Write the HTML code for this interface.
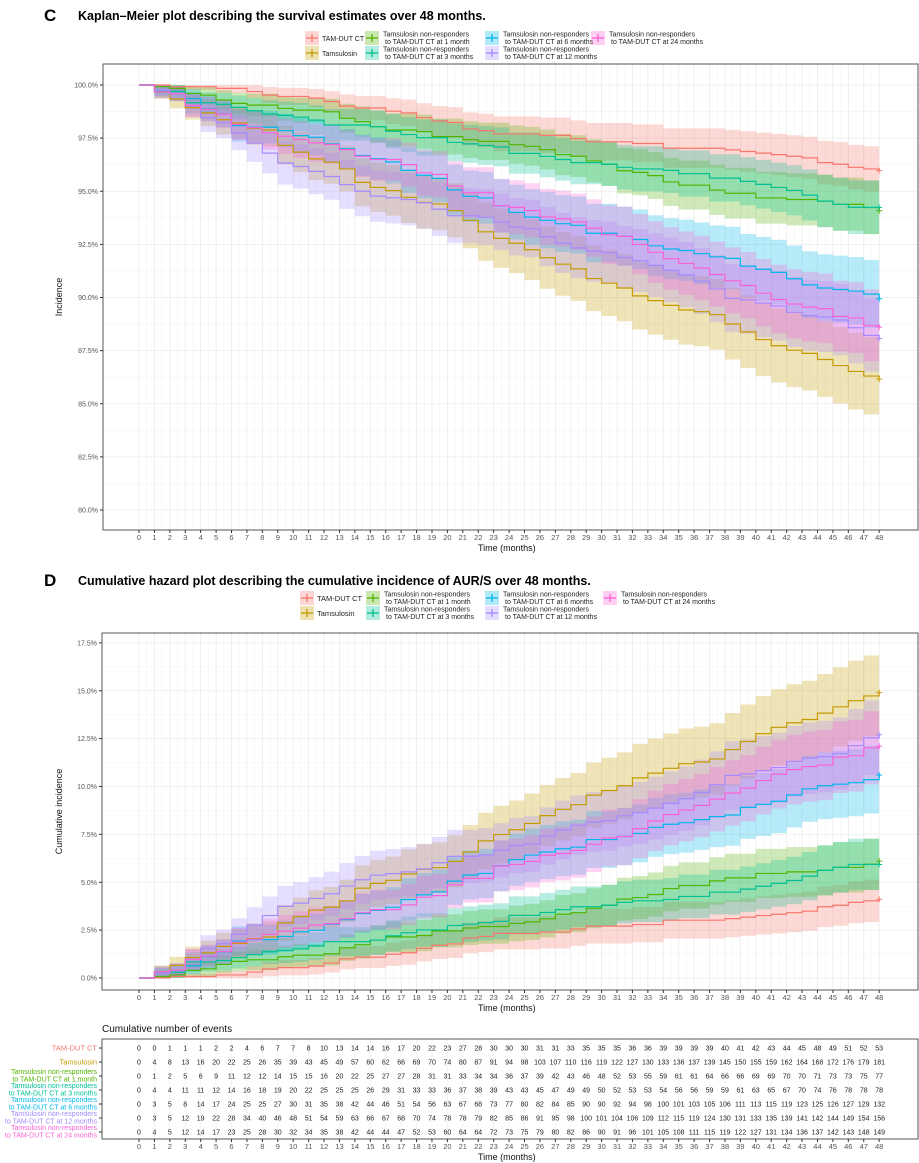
<!DOCTYPE html>
<html><head><meta charset="utf-8">
<style>
body{margin:0;background:#fff;font-family:"Liberation Sans",sans-serif;}
svg{display:block}
</style></head>
<body>
<svg id="chart" width="919" height="1163" xmlns="http://www.w3.org/2000/svg" font-family="Liberation Sans, sans-serif"></svg>
<script>
const months = [0,1,2,3,4,5,6,7,8,9,10,11,12,13,14,15,16,17,18,19,20,21,22,23,24,25,26,27,28,29,30,31,32,33,34,35,36,37,38,39,40,41,42,43,44,45,46,47,48];
const seriesNames = ["TAM-DUT CT","Tamsulosin","Tamsulosin non-responders to TAM-DUT CT at 1 month","Tamsulosin non-responders to TAM-DUT CT at 3 months","Tamsulosin non-responders to TAM-DUT CT at 6 months","Tamsulosin non-responders to TAM-DUT CT at 12 months","Tamsulosin non-responders to TAM-DUT CT at 24 months"];
const colors = ["#F8766D","#C49A00","#53B400","#00C094","#00B6EB","#A58AFF","#FB61D7"];
// cumulative hazard (%) per month
const incTamDut = [0,0,.08,.08,.08,.16,.16,.31,.47,.54,.54,.62,.78,1.0,1.09,1.09,1.24,1.32,1.55,1.71,1.78,2.09,2.17,2.33,2.33,2.33,2.4,2.4,2.56,2.71,2.71,2.71,2.79,2.79,3.02,3.02,3.02,3.02,3.1,3.18,3.26,3.33,3.41,3.49,3.72,3.8,3.95,4.03,4.11];
const incTams = [0,.33,.66,1.07,1.32,1.65,1.81,2.06,2.14,2.88,3.21,3.54,3.70,4.03,4.69,4.94,5.10,5.43,5.68,5.76,6.09,6.58,7.16,7.49,7.74,8.07,8.48,8.81,9.05,9.55,9.79,10.04,10.45,10.70,10.95,11.19,11.28,11.44,11.93,12.35,12.76,13.09,13.33,13.50,13.83,14.16,14.48,14.73,14.9];
const inc1m = [0,.08,.16,.40,.48,.71,.87,.95,.95,1.11,1.19,1.19,1.27,1.58,1.74,1.98,2.14,2.14,2.22,2.46,2.46,2.61,2.69,2.69,2.85,2.93,3.09,3.33,3.41,3.64,3.80,4.12,4.20,4.36,4.67,4.83,4.83,5.07,5.23,5.23,5.46,5.46,5.54,5.54,5.62,5.78,5.78,5.94,6.10];
const inc3m = [0,.30,.30,.84,.84,.91,1.06,1.22,1.37,1.44,1.52,1.67,1.90,1.90,1.90,1.98,2.20,2.36,2.51,2.51,2.74,2.81,2.89,2.96,3.27,3.27,3.42,3.57,3.72,3.72,3.80,3.95,4.03,4.03,4.10,4.26,4.26,4.48,4.48,4.64,4.79,4.94,5.09,5.32,5.62,5.78,5.93,5.93,5.93];
const inc6m = [0,.24,.40,.64,1.12,1.37,1.93,2.01,2.01,2.17,2.41,2.49,2.81,3.05,3.37,3.53,3.69,4.10,4.34,4.50,5.06,5.38,5.46,5.86,6.18,6.42,6.58,6.75,6.83,7.23,7.23,7.39,7.55,7.87,8.03,8.11,8.27,8.43,8.51,8.91,9.07,9.23,9.56,9.88,10.04,10.12,10.20,10.36,10.6];
const inc12m = [0,.24,.41,.98,1.55,1.79,2.28,2.77,3.26,3.74,3.91,4.15,4.40,4.80,5.13,5.37,5.45,5.54,5.70,6.02,6.35,6.35,6.43,6.67,6.92,7.00,7.41,7.73,7.98,8.14,8.22,8.47,8.63,8.87,9.12,9.36,9.69,10.09,10.58,10.66,10.83,10.99,11.31,11.48,11.56,11.72,12.13,12.54,12.7];
const inc24m = [0,.32,.41,.97,1.14,1.38,1.87,2.03,2.27,2.44,2.60,2.76,2.84,3.09,3.41,3.57,3.57,3.82,4.22,4.30,4.87,5.20,5.20,5.85,5.93,6.09,6.41,6.50,6.66,6.98,7.31,7.39,7.80,8.20,8.53,8.77,9.01,9.34,9.66,9.91,10.31,10.64,10.88,11.04,11.12,11.53,11.61,12.02,12.1];
const evTamDut = [0,0,1,1,1,2,2,4,6,7,7,8,10,13,14,14,16,17,20,22,23,27,28,30,30,30,31,31,33,35,35,35,36,36,39,39,39,39,40,41,42,43,44,45,48,49,51,52,53];
const evTams = [0,4,8,13,16,20,22,25,26,35,39,43,45,49,57,60,62,66,69,70,74,80,87,91,94,98,103,107,110,116,119,122,127,130,133,136,137,139,145,150,155,159,162,164,168,172,176,179,181];
const ev1m = [0,1,2,5,6,9,11,12,12,14,15,15,16,20,22,25,27,27,28,31,31,33,34,34,36,37,39,42,43,46,48,52,53,55,59,61,61,64,66,66,69,69,70,70,71,73,73,75,77];
const ev3m = [0,4,4,11,11,12,14,16,18,19,20,22,25,25,25,26,29,31,33,33,36,37,38,39,43,43,45,47,49,49,50,52,53,53,54,56,56,59,59,61,63,65,67,70,74,76,78,78,78];
const ev6m = [0,3,5,8,14,17,24,25,25,27,30,31,35,38,42,44,46,51,54,56,63,67,68,73,77,80,82,84,85,90,90,92,94,98,100,101,103,105,106,111,113,115,119,123,125,126,127,129,132];
const ev12m = [0,3,5,12,19,22,28,34,40,46,48,51,54,59,63,66,67,68,70,74,78,78,79,82,85,86,91,95,98,100,101,104,106,109,112,115,119,124,130,131,133,135,139,141,142,144,149,154,156];
const ev24m = [0,4,5,12,14,17,23,25,28,30,32,34,35,38,42,44,44,47,52,53,60,64,64,72,73,75,79,80,82,86,90,91,96,101,105,108,111,115,119,122,127,131,134,136,137,142,143,148,149];
const cTicks = [80,82.5,85,87.5,90,92.5,95,97.5,100];
const dTicks = [0,2.5,5,7.5,10,12.5,15,17.5];

const incs=[incTamDut,incTams,inc1m,inc3m,inc6m,inc12m,inc24m];
const evs=[evTamDut,evTams,ev1m,ev3m,ev6m,ev12m,ev24m];
const NS="http://www.w3.org/2000/svg";
const svg=document.getElementById('chart');
function el(tag,attrs,parent,text){const e=document.createElementNS(NS,tag);for(const k in attrs)e.setAttribute(k,attrs[k]);if(text!==undefined)e.textContent=text;(parent||svg).appendChild(e);return e;}
const xS=m=>139+m*15.42;
const yC=v=>85+(100-v)*21.25;
const yD=v=>978-v*19.15;

function titleBlock(letter,text,y){
  const t1=el('text',{x:44,y:y,'font-size':17,'font-weight':'bold'},svg,letter);
  
  
  const t2=el('text',{x:78,y:y-1,'font-size':12.5,'font-weight':'bold'},svg,text);
  
  
}
function legend(y0,xs,tag,fs1){
  const g=el('g',{});
  
  
  const pos=[[xs[0],y0,"TAM-DUT CT"],[xs[0],y0+15,"Tamsulosin"],[xs[1],y0,"Tamsulosin non-responders|to TAM-DUT CT at 1 month"],[xs[1],y0+15,"Tamsulosin non-responders|to TAM-DUT CT at 3 months"],[xs[2],y0,"Tamsulosin non-responders|to TAM-DUT CT at 6 months"],[xs[2],y0+15,"Tamsulosin non-responders|to TAM-DUT CT at 12 months"],[xs[3],y0,"Tamsulosin non-responders|to TAM-DUT CT at 24 months"]];
  pos.forEach((p,i)=>{
    const ge=el('g',{},g);
    
    
    el('rect',{x:p[0]-7,y:p[1]-7,width:14,height:14,fill:colors[i],'fill-opacity':0.3},ge);
    el('line',{x1:p[0]-6,y1:p[1],x2:p[0]+6,y2:p[1],stroke:colors[i],'stroke-width':1.3},ge);
    el('line',{x1:p[0],y1:p[1]-4,x2:p[0],y2:p[1]+4,stroke:colors[i],'stroke-width':1.3},ge);
    const lines=p[2].split('|');
    if(lines.length===1){el('text',{x:p[0]+10,y:p[1]+3,'font-size':fs1,fill:'#222'},ge,lines[0]);}
    else{el('text',{x:p[0]+11,y:p[1]-1.5,'font-size':7,fill:'#222'},ge,lines[0]);
         el('text',{x:p[0]+13,y:p[1]+6,'font-size':7,fill:'#222'},ge,lines[1]);}
  });
}
function panel(tag,box,yf,ticks,fmt,invert,ytitle,ytx){
  const [L,T,R,B]=box;
  const val=v=>invert?100*Math.exp(-v/100):v;
  const g=el('g',{});
  
  
  for(let i=0;i<ticks.length;i++){
    el('line',{x1:L,x2:R,y1:yf(ticks[i]),y2:yf(ticks[i]),stroke:'#ebebeb','stroke-width':0.8},g);
    if(i<ticks.length-1){const m=(ticks[i]+ticks[i+1])/2;el('line',{x1:L,x2:R,y1:yf(m),y2:yf(m),stroke:'#f4f4f4','stroke-width':0.6},g);}
  }
  months.forEach(m=>{
    el('line',{x1:xS(m),x2:xS(m),y1:T,y2:B,stroke:'#ebebeb','stroke-width':0.8},g);
    if(m<48) el('line',{x1:xS(m+0.5),x2:xS(m+0.5),y1:T,y2:B,stroke:'#f4f4f4','stroke-width':0.6},g);
  });
  incs.forEach((inc,s)=>{
    let up='',lo=[];
    inc.forEach((v,i)=>{
      if(i===48) return;
      const hw=0.55*Math.sqrt(v);
      const a=val(v+hw),b=val(Math.max(0,v-hw));
      const x0=xS(i),x1=xS(i+1);
      up+=(i===0?'M':'L')+x0+','+yf(a)+'L'+x1+','+yf(a);
      lo.unshift('L'+x1+','+yf(b)+'L'+x0+','+yf(b));
    });
    const band=el('path',{d:up+lo.join('')+'Z',fill:colors[s],'fill-opacity':0.28,stroke:'none'},g);
    
    
  });
  incs.forEach((inc,s)=>{
    let d='M'+xS(0)+','+yf(val(inc[0]));
    for(let i=1;i<inc.length;i++){d+='H'+xS(i)+'V'+yf(val(inc[i]));}
    const line=el('path',{d:d,fill:'none',stroke:colors[s],'stroke-width':1.2},g);
    
    
    const xe=xS(48),ye=yf(val(inc[48]));
    el('path',{d:`M${xe-3},${ye}H${xe+3}M${xe},${ye-3}V${ye+3}`,stroke:colors[s],'stroke-width':1},g);
  });
  el('rect',{x:L,y:T,width:R-L,height:B-T,fill:'none',stroke:'#555','stroke-width':1},g);
  ticks.forEach(t=>{
    el('line',{x1:L-3,x2:L,y1:yf(t),y2:yf(t),stroke:'#333'},g);
    const tx=el('text',{x:L-5,y:yf(t)+2.5,'font-size':7,fill:'#555','text-anchor':'end'},g,fmt(t));
    
    
  });
  months.forEach(m=>{
    el('line',{x1:xS(m),x2:xS(m),y1:B,y2:B+3,stroke:'#333'},g);
    const tx=el('text',{x:xS(m),y:B+10,'font-size':7.5,fill:'#555','text-anchor':'middle'},g,String(m));
    
    
  });
  const xt=el('text',{x:478,y:B+21,'font-size':9,fill:'#111'},g,'Time (months)');
  
  
  const yc=(T+B)/2;
  const yt=el('text',{x:ytx,y:yc,'font-size':9,fill:'#111','text-anchor':'middle',transform:`rotate(-90 ${ytx} ${yc})`},g,ytitle);
  
  
}
titleBlock('C','Kaplan\u2013Meier plot describing the survival estimates over 48 months.',21);
legend(38,[312,372,492,598],'c',7);
panel('c',[103,64,918,530],yC,cTicks,t=>t.toFixed(1)+'%',true,'Incidence',62);
titleBlock('D','Cumulative hazard plot describing the cumulative incidence of AUR/S over 48 months.',586);
legend(598,[307,373,492,610],'d',7.5);
panel('d',[102,633,918,990],yD,dTicks,t=>t.toFixed(1)+'%',false,'Cumulative incidence',62);

const tt=el('text',{x:102,y:1032,'font-size':10,fill:'#111'},svg,'Cumulative number of events');


const tg=el('g',{});


months.forEach(m=>{el('line',{x1:xS(m),x2:xS(m),y1:1039,y2:1139,stroke:'#f0f0f0','stroke-width':0.8},tg);});
el('rect',{x:102,y:1039,width:816,height:100,fill:'none',stroke:'#555','stroke-width':1},tg);
const rowY=[1048,1062,1076,1090,1104,1118,1132];
const labels=[["TAM-DUT CT"],["Tamsulosin"],["Tamsulosin non-responders","to TAM-DUT CT at 1 month"],["Tamsulosin non-responders","to TAM-DUT CT at 3 months"],["Tamsulosin non-responders","to TAM-DUT CT at 6 months"],["Tamsulosin non-responders","to TAM-DUT CT at 12 months"],["Tamsulosin non-responders","to TAM-DUT CT at 24 months"]];
evs.forEach((ev,s)=>{
  const y=rowY[s];
  const lab=labels[s];
  const lt=el('text',{x:97,y:lab.length===1?y+2.5:y-2,'font-size':lab.length===1?7.5:7,fill:colors[s],'text-anchor':'end'},tg,lab[0]);
  
  
  if(lab.length>1) el('text',{x:97,y:y+5.5,'font-size':7,fill:colors[s],'text-anchor':'end'},tg,lab[1]);
  el('line',{x1:99,x2:102,y1:y,y2:y,stroke:'#333'},tg);
  ev.forEach((v,i)=>{
    const c=el('text',{x:xS(i),y:y+2.5,'font-size':7,fill:'#222','text-anchor':'middle'},tg,String(v));
    
    
  });
});
months.forEach(m=>{
  el('line',{x1:xS(m),x2:xS(m),y1:1139,y2:1142,stroke:'#333'},tg);
  el('text',{x:xS(m),y:1149,'font-size':7.5,fill:'#555','text-anchor':'middle'},tg,String(m));
});
const xt2=el('text',{x:478,y:1160,'font-size':9,fill:'#111'},tg,'Time (months)');


</script>
</body></html>
